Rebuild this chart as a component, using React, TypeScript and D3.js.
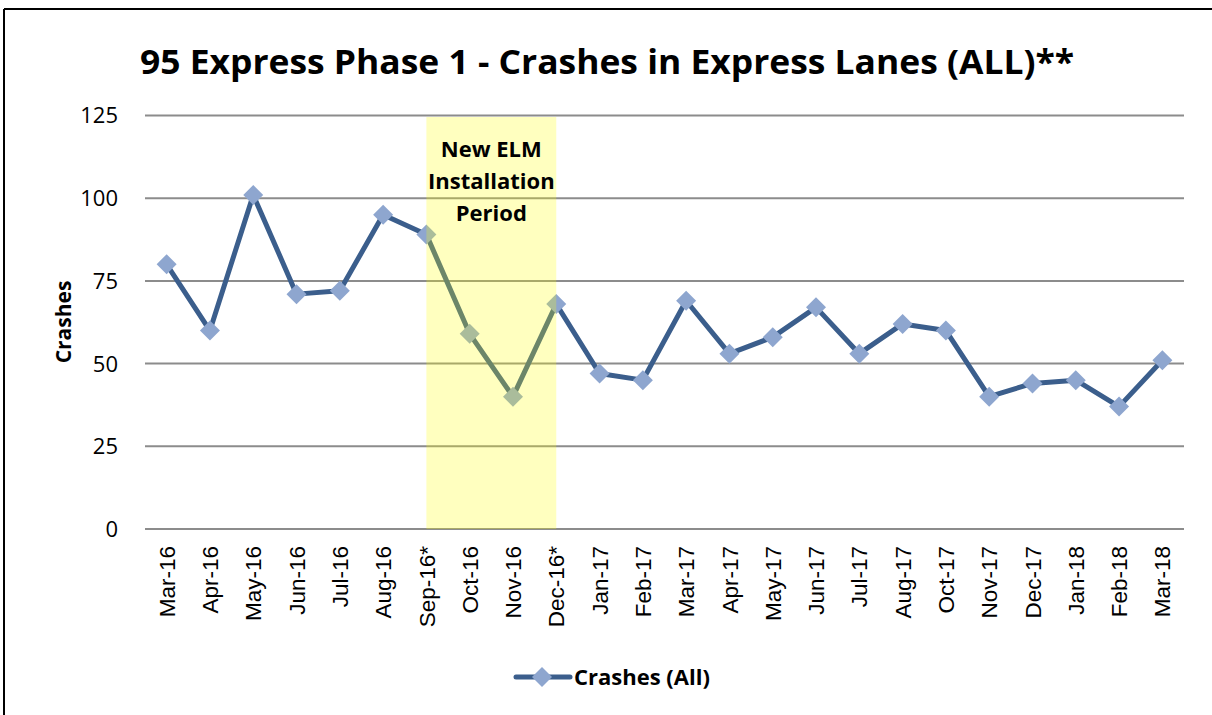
import React from "react";
import * as d3 from "d3";

const months = ["Mar-16","Apr-16","May-16","Jun-16","Jul-16","Aug-16","Sep-16*","Oct-16","Nov-16","Dec-16*","Jan-17","Feb-17","Mar-17","Apr-17","May-17","Jun-17","Jul-17","Aug-17","Oct-17","Nov-17","Dec-17","Jan-18","Feb-18","Mar-18"];
const crashes = [80,60,101,71,72,95,89,59,40,68,47,45,69,53,58,67,53,62,60,40,44,45,37,51];
const yTicks = [0,25,50,75,100,125];
const shadeStart = "Sep-16*";
const shadeEnd = "Dec-16*";
const shadeLabel = ["New ELM","Installation","Period"];

const W = 1212, H = 715;
const left = 145, right = 1184, top = 115.5, bottom = 529;
const FONT = "'Open Sans', 'DejaVu Sans', sans-serif";
const AXFONT = "'Liberation Sans', Arial, sans-serif";

export default function App() {
  const x = d3.scaleBand<string>().domain(months).range([left, right]);
  const cx = (m: string) => (x(m) as number) + x.bandwidth() / 2;
  const y = d3.scaleLinear().domain([0, 125]).range([bottom, top]);
  const line = d3.line<number>().x((_, i) => cx(months[i])).y(d => y(d));
  const diamond = (px: number, py: number, r = 10) =>
    `M${px},${py - r}L${px + r},${py}L${px},${py + r}L${px - r},${py}Z`;
  const sx0 = cx(shadeStart), sx1 = cx(shadeEnd);

  return (
    <svg width={W} height={H} style={{ position: "absolute", left: 0, top: 0, background: "#fff" }}>
      <line x1={4} y1={9} x2={W} y2={9} stroke="#000" strokeWidth={2} />
      <line x1={4} y1={9} x2={4} y2={H} stroke="#000" strokeWidth={2} />
      <text x={607} y={74} textAnchor="middle" fontFamily={FONT} fontWeight="bold" fontSize={34} textLength={934} lengthAdjust="spacingAndGlyphs">
        95 Express Phase 1 - Crashes in Express Lanes (ALL)**
      </text>
      {yTicks.map(t => (
        <g key={t}>
          <line x1={left} x2={right} y1={y(t)} y2={y(t)} stroke="#8c8c8c" strokeWidth={2} />
          <text x={118} y={y(t)} dy="0.36em" textAnchor="end" fontFamily={FONT} fontSize={22} fill="#000">{t}</text>
        </g>
      ))}
      <text transform={`translate(64,${322}) rotate(-90)`} textAnchor="middle" dy="0.35em" fontFamily={FONT} fontWeight="bold" fontSize={21}>Crashes</text>
      <path d={line(crashes) as string} fill="none" stroke="#3b5e8c" strokeWidth={5} strokeLinejoin="round" />
      {crashes.map((v, i) => (
        <path key={i} d={diamond(cx(months[i]), y(v))} fill="#8ea6cf" />
      ))}
      <rect x={sx0} y={117} width={sx1 - sx0} height={bottom - 117} fill="rgb(255,255,0)" fillOpacity={0.25} />
      {shadeLabel.map((s, i) => (
        <text key={s} x={(sx0 + sx1) / 2} y={157 + i * 32} textAnchor="middle" fontFamily={FONT} fontWeight="bold" fontSize={22}>{s}</text>
      ))}
      {months.map(m => (
        <text key={m} transform={`translate(${cx(m)},546) rotate(-90)`} textAnchor="end" dy="0.36em" fontFamily={AXFONT} fontSize={22.5}>{m}</text>
      ))}
      <line x1={516} x2={570} y1={677} y2={677} stroke="#3b5e8c" strokeWidth={5} strokeLinecap="round" />
      <path d={diamond(542, 677, 10)} fill="#8ea6cf" />
      <text x={574} y={677} dy="0.36em" fontFamily={FONT} fontWeight="bold" fontSize={22}>Crashes (All)</text>
    </svg>
  );
}
